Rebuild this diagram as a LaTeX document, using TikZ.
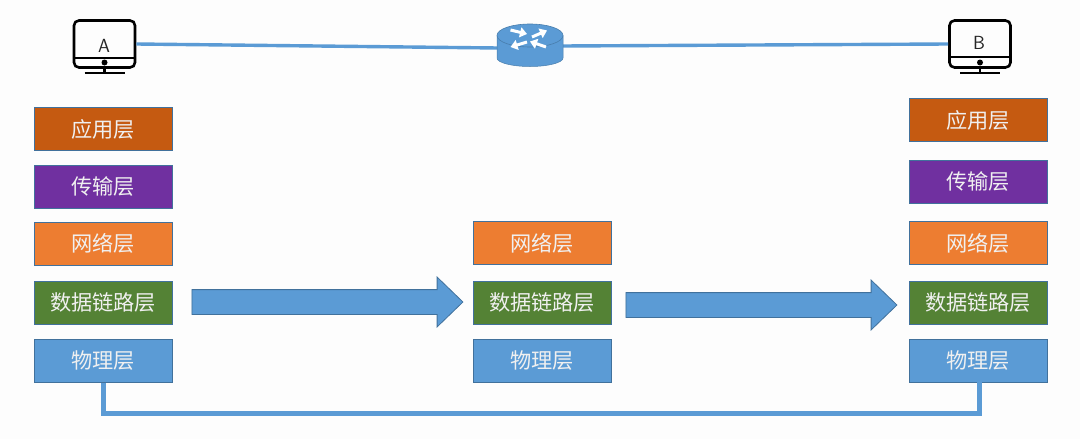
\documentclass[tikz,border=0pt]{standalone}
\usepackage{fontspec}
\usepackage{tikz}
\usetikzlibrary{arrows.meta,shapes.arrows}
\newfontfamily\cjk{Noto Sans CJK SC}
\definecolor{bgpage}{HTML}{FDFDFD}
\definecolor{linkblue}{HTML}{5B9BD5}
\definecolor{edgeblue}{HTML}{41719C}
\definecolor{appcol}{HTML}{C55A11}
\definecolor{transcol}{HTML}{7030A0}
\definecolor{netcol}{HTML}{ED7D31}
\definecolor{datacol}{HTML}{548235}
\tikzset{
    layer/.style={draw=edgeblue, line width=1pt, inner sep=0pt, minimum width=138pt, minimum height=43pt,
        text=white!94!black, font=\cjk\fontsize{21.2}{24}\selectfont},
    wire/.style={draw=linkblue, line width=3.4pt},
    flow/.style={single arrow, draw=edgeblue, line width=0.8pt, fill=linkblue, inner xsep=0pt, inner ysep=12pt,
        minimum height=271pt, single arrow head extend=12.5pt,
        single arrow tip angle=88, single arrow head indent=0pt},
    screen/.style={draw=black, line width=2.6pt, rounded corners=5pt, inner sep=0pt,
        minimum width=61pt, minimum height=47pt},
    hostlabel/.style={font=\sffamily\fontsize{19}{22}\selectfont, inner sep=0pt, text=black!85},
    swirl/.style={draw=white, line width=3pt, -{Triangle[length=7pt,width=10pt]}}
}
\begin{document}
\begin{tikzpicture}[x=1pt, y=-1pt]
    \useasboundingbox[fill=bgpage] (0,0) rectangle (1080,439);

    % Hosts
    \node (pcA) at (104.5,44) [screen] {};
    \node (pcB) at (980,44) [screen] {};
    \node (labA) at (104,46) [hostlabel] {A};
    \node (labB) at (979,43) [hostlabel] {B};
    \foreach \hx/\hy/\hn in {104.5/58/A, 980/57/B} {
        \draw[line width=2.2pt] (\hx-30,\hy) -- (\hx+30,\hy);
        \fill (\hx,62.5) circle (3pt);
        \draw[line width=2.2pt] (\hx,66) -- (\hx,73);
        \draw[line width=2.6pt] (\hx-20,73) -- (\hx+20,73);
    }

    % Router
    \coordinate (routerL) at (498,48);
    \coordinate (routerR) at (562,46);
    \draw[wire] (pcA.east) -- (routerL);
    \draw[wire] (routerR) -- (pcB.west);
    \fill[draw=edgeblue!70!linkblue, line width=0.5pt, fill=linkblue] (497,35.5) -- (497,58) arc[start angle=180, end angle=0, x radius=33, y radius=8.5] -- (563,35.5) -- cycle;
    \draw[fill=linkblue, draw=edgeblue!70!linkblue, line width=0.6pt] (530,35.5) ellipse [x radius=33, y radius=11.5];
    \draw[swirl] (510.5,30) -- (527,34);
    \draw[swirl] (532,37) -- (547,30.5);
    \draw[swirl] (527,42) -- (510.5,47);
    \draw[swirl] (546,47) -- (530,41.5);

    % Host A stack
    \node (appA) at (103,129) [layer, fill=appcol] {\raisebox{-2pt}{应用层}};
    \node (transA) at (103,186.5) [layer, fill=transcol] {\raisebox{-2pt}{传输层}};
    \node (netA) at (103,243.5) [layer, fill=netcol] {\raisebox{-2pt}{网络层}};
    \node (dataA) at (103,302.5) [layer, fill=datacol] {\raisebox{-2pt}{数据链路层}};
    \node (phyA) at (103,360.5) [layer, fill=linkblue] {\raisebox{-2pt}{物理层}};

    % Router stack
    \node (netR) at (542,243) [layer, fill=netcol] {\raisebox{-2pt}{网络层}};
    \node (dataR) at (542,303) [layer, fill=datacol] {\raisebox{-2pt}{数据链路层}};
    \node (phyR) at (542,360.5) [layer, fill=linkblue] {\raisebox{-2pt}{物理层}};

    % Host B stack
    \node (appB) at (978,120) [layer, fill=appcol] {\raisebox{-2pt}{应用层}};
    \node (transB) at (978,181.5) [layer, fill=transcol] {\raisebox{-2pt}{传输层}};
    \node (netB) at (978,243) [layer, fill=netcol] {\raisebox{-2pt}{网络层}};
    \node (dataB) at (978,303) [layer, fill=datacol] {\raisebox{-2pt}{数据链路层}};
    \node (phyB) at (978,360.5) [layer, fill=linkblue] {\raisebox{-2pt}{物理层}};

    % Flow between stacks
    \node (flowA) at (321,302) [flow] {};
    \node (flowB) at (755,305) [flow] {};

    % Cable
    \draw[draw=linkblue, line width=5pt] (phyA.south) -- (103,413.5) -- (979,413.5) -- (979,381.5);
\end{tikzpicture}
\end{document}
